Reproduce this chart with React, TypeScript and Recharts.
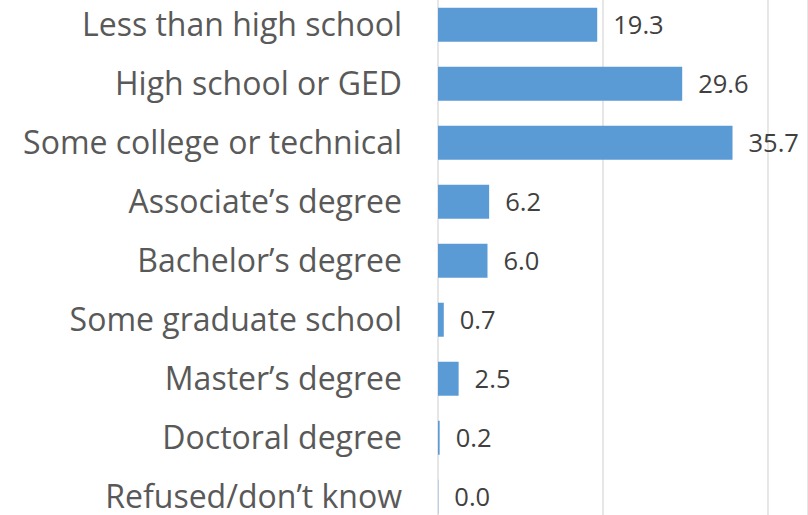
import React from "react";
import { BarChart, Bar, XAxis, YAxis, CartesianGrid, LabelList } from "recharts";

const categories = [
  "Less than high school",
  "High school or GED",
  "Some college or technical",
  "Associate’s degree",
  "Bachelor’s degree",
  "Some graduate school",
  "Master’s degree",
  "Doctoral degree",
  "Refused/don’t know",
];
const values = [19.3, 29.6, 35.7, 6.2, 6.0, 0.7, 2.5, 0.2, 0.0];
const xTicks = [0, 20, 40];

const data = categories.map((name, i) => ({ name, value: values[i] }));

const FONT = "'Open Sans', sans-serif";

export default function App() {
  return (
    <div
      style={{
        position: "fixed",
        top: 0,
        left: 0,
        width: 808,
        height: 515,
        overflow: "hidden",
        background: "#ffffff",
      }}
    >
      <div style={{ position: "absolute", top: -5.5, left: 0 }}>
        <BarChart
          width={808}
          height={531}
          data={data}
          layout="vertical"
          margin={{ top: 0, right: 0, bottom: 0, left: 0 }}
          barCategoryGap="21.6%"
        >
          <CartesianGrid
            horizontal={false}
            vertical={true}
            stroke="#d9d9d9"
            strokeWidth={1.3}
          />
          <XAxis
            type="number"
            domain={[0, 44.85]}
            ticks={xTicks}
            allowDataOverflow
            height={0}
            axisLine={false}
            tickLine={false}
            tick={() => <g />}
          />
          <YAxis
            type="category"
            dataKey="name"
            width={438}
            axisLine={false}
            tickLine={false}
            tickSize={0}
            tickMargin={36}
            interval={0}
            tick={{ fill: "#595959", fontSize: 32, fontFamily: FONT }}
          />
          <Bar
            dataKey="value"
            fill="#5b9bd5"
            minPointSize={0.3}
            isAnimationActive={false}
          >
            <LabelList
              dataKey="value"
              position="right"
              offset={16}
              formatter={(v: number) => Number(v).toFixed(1)}
              style={{ fill: "#404040", fontSize: 25.5, fontFamily: FONT }}
            />
          </Bar>
        </BarChart>
      </div>
    </div>
  );
}
